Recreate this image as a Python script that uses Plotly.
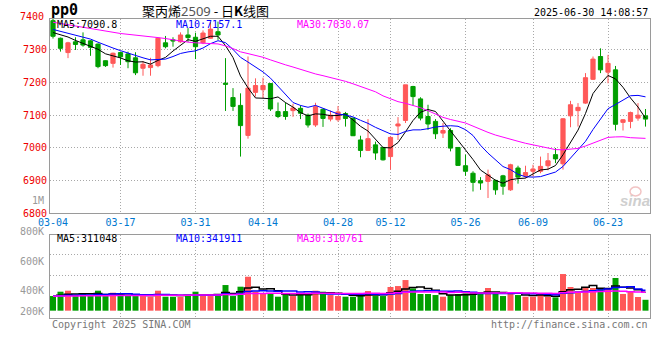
import plotly.graph_objects as go
import pandas as pd

# ---------------- data ----------------
dates = [
    "03-04", "03-05", "03-06", "03-07", "03-10", "03-11", "03-12", "03-13", "03-14", "03-17",
    "03-18", "03-19", "03-20", "03-21", "03-24", "03-25", "03-26", "03-27", "03-28", "03-31",
    "04-01", "04-02", "04-03", "04-07", "04-08", "04-09", "04-10", "04-11", "04-14", "04-15",
    "04-16", "04-17", "04-18", "04-21", "04-22", "04-23", "04-24", "04-25", "04-28", "04-29",
    "04-30", "05-06", "05-07", "05-08", "05-09", "05-12", "05-13", "05-14", "05-15", "05-16",
    "05-19", "05-20", "05-21", "05-22", "05-23", "05-26", "05-27", "05-28", "05-29", "05-30",
    "06-03", "06-04", "06-05", "06-06", "06-09", "06-10", "06-11", "06-12", "06-13", "06-16",
    "06-17", "06-18", "06-19", "06-20", "06-23", "06-24", "06-25", "06-26", "06-27", "06-30",
]
opens = [
    7390, 7336, 7292, 7325, 7331, 7328, 7318, 7267, 7259, 7292,
    7288, 7276, 7244, 7246, 7252, 7322, 7331, 7325, 7346, 7339,
    7322, 7336, 7356, 7198, 7154, 7130, 7038, 7170, 7178, 7197,
    7111, 7111, 7114, 7121, 7100, 7070, 7118, 7088, 7086, 7105,
    7091, 7024, 6992, 7009, 7001, 6973, 7067, 7084, 7188, 7150,
    7096, 7081, 7045, 7053, 7001, 6945, 6922, 6899, 6897, 6900,
    6914, 6871, 6938, 6914, 6928, 6928, 6945, 6979, 6951, 7098,
    7114, 7137, 7210, 7280, 7232, 7239, 7078, 7081, 7091, 7098,
]
highs = [
    7395, 7338, 7325, 7339, 7354, 7330, 7320, 7268, 7292, 7295,
    7295, 7293, 7266, 7276, 7337, 7343, 7339, 7354, 7367, 7353,
    7360, 7385, 7387, 7275, 7183, 7167, 7280, 7213, 7215, 7198,
    7139, 7139, 7135, 7130, 7105, 7138, 7120, 7114, 7128, 7110,
    7092, 7037, 7088, 7019, 7003, 7035, 7094, 7193, 7190, 7155,
    7132, 7088, 7076, 7060, 7002, 6979, 6928, 6910, 6933, 6902,
    6917, 6951, 6945, 6945, 6948, 6973, 6984, 6999, 7091, 7144,
    7137, 7229, 7280, 7305, 7285, 7251, 7088, 7111, 7137, 7119,
]
lows = [
    7335, 7295, 7275, 7300, 7310, 7282, 7244, 7248, 7246, 7254,
    7244, 7223, 7221, 7221, 7247, 7305, 7310, 7322, 7325, 7272,
    7318, 7335, 7331, 7113, 7113, 6973, 7028, 7157, 7152, 7113,
    7091, 7086, 7095, 7088, 7062, 7064, 7064, 7081, 7080, 7065,
    7036, 6971, 6990, 6963, 6961, 6933, 7024, 7076, 7129, 7084,
    7055, 7027, 7030, 6989, 6945, 6914, 6866, 6871, 6846, 6856,
    6856, 6868, 6890, 6907, 6912, 6922, 6931, 6953, 6933, 7063,
    7065, 7135, 7208, 7229, 7198, 7053, 7053, 7060, 7083, 7065,
]
closes = [
    7342, 7305, 7322, 7317, 7315, 7308, 7249, 7252, 7290, 7279,
    7264, 7230, 7256, 7254, 7336, 7310, 7328, 7346, 7338, 7310,
    7352, 7364, 7346, 7195, 7127, 7068, 7183, 7191, 7191, 7119,
    7096, 7096, 7122, 7106, 7070, 7126, 7090, 7100, 7110, 7090,
    7037, 6992, 7028, 6984, 6963, 7032, 7073, 7193, 7157, 7091,
    7073, 7043, 7053, 6999, 6946, 6928, 6894, 6892, 6917, 6871,
    6882, 6948, 6910, 6924, 6935, 6943, 6960, 6966, 7089, 7132,
    7124, 7215, 7272, 7239, 7259, 7072, 7086, 7108, 7100, 7088,
]
# 29 sessions before 03-04 (not drawn; estimated from the moving-average curves)
prior_closes = [
    7425, 7442, 7437, 7435, 7428, 7354, 7357, 7410, 7384, 7339,
    7290, 7316, 7344, 7426, 7400, 7448, 7436, 7458, 7370, 7421,
    7365, 7380, 7372, 7378, 7368, 7345, 7350, 7370, 7360,
]
volumes_k = [
    246, 319, 336, 246, 280, 246, 336, 246, 302, 280,
    263, 246, 246, 235, 336, 235, 235, 235, 263, 319,
    263, 246, 263, 431, 246, 403, 571, 319, 280, 280,
    235, 280, 246, 291, 291, 336, 319, 263, 246, 235,
    235, 280, 330, 246, 246, 398, 414, 515, 375, 280,
    280, 263, 235, 263, 280, 291, 314, 314, 381, 280,
    246, 291, 263, 235, 235, 291, 235, 224, 616, 398,
    325, 398, 381, 375, 381, 549, 280, 314, 230, 183,
]
prior_volumes_k = [
    238, 252, 231, 260, 244, 229, 249, 236, 255, 241,
    233, 247, 258, 226, 240, 251, 237, 245, 232, 256,
    243, 235, 249, 228, 254, 239, 246, 231, 250,
]
tick_labels = ["03-04", "03-17", "03-31", "04-14", "04-28", "05-12", "05-26", "06-09", "06-23"]
price_ticks = [6800, 6900, 7000, 7100, 7200, 7300]
price_top_label = "7400"
ma_windows = [5, 10, 30]
price_ma_text = ["MA5:7090.8", "MA10:7157.1", "MA30:7030.07"]
vol_ma_text = ["MA5:311048", "MA10:341911", "MA30:310761"]
vol_axis_labels = ["800K", "600K", "400K", "200K"]
title_code = "pp0"
timestamp = "2025-06-30 14:08:57"

# ---------------- styles ----------------
RED = "#FF5858"
GREEN = "#009E00"
MA_COLORS = ["#000000", "#0000FF", "#FF00FF"]
GRID = "#A8A8A8"
BORDER = "#9A9A9A"
MONO = "DejaVu Sans Mono"
DASH = "1px,2px"

n = len(closes)
x = list(range(n))
tick_idx = [dates.index(d) for d in tick_labels]
grid_idx = tick_idx[1:]

px_all = pd.Series(prior_closes + closes, dtype=float)
vol_all = pd.Series(prior_volumes_k + volumes_k, dtype=float) * 1000
k0 = len(prior_closes)
price_ma = {w: px_all.rolling(w).mean().iloc[k0:].tolist() for w in ma_windows}
vol_ma = {w: vol_all.rolling(w).mean().iloc[len(prior_volumes_k):].tolist() for w in ma_windows}
volumes = [v * 1000 for v in volumes_k]
vol_colors = [RED if c >= o else GREEN for o, c in zip(opens, closes)]

fig = go.Figure()
fig.add_trace(go.Candlestick(
    x=x, open=opens, high=highs, low=lows, close=closes,
    increasing=dict(line=dict(color=RED, width=1), fillcolor=RED),
    decreasing=dict(line=dict(color=GREEN, width=1), fillcolor=GREEN),
    whiskerwidth=0, xaxis="x", yaxis="y", hoverinfo="skip", showlegend=False,
))
for w, col in zip(ma_windows, MA_COLORS):
    fig.add_trace(go.Scatter(x=x, y=price_ma[w], mode="lines",
                             line=dict(color=col, width=1), xaxis="x", yaxis="y",
                             hoverinfo="skip", showlegend=False))
fig.add_trace(go.Bar(x=x, y=volumes, marker=dict(color=vol_colors, line=dict(width=0)),
                     width=0.8, xaxis="x2", yaxis="y2", hoverinfo="skip", showlegend=False))
for w, col in zip(ma_windows, MA_COLORS):
    fig.add_trace(go.Scatter(x=x, y=vol_ma[w], mode="lines", line_shape="hvh",
                             line=dict(color=col, width=1.5), xaxis="x2", yaxis="y2",
                             hoverinfo="skip", showlegend=False))

# pixel helpers for text placement (plot area: x 50..650, y 19..318)
def PX(p):
    return (p - 50) / 600.0

def PY(p):
    return (318 - p) / 299.0

ann = []
def txt(s, px, py, color="#000", size=10, xanchor="left", family=MONO, **kw):
    ann.append(dict(text=s, x=PX(px), y=PY(py), xref="paper", yref="paper",
                    xanchor=xanchor, yanchor="middle", showarrow=False,
                    font=dict(family=family, size=size, color=color), **kw))

txt("<b>" + title_code + "</b>", 49, 10, size=15)
txt("聚丙烯<span style='color:#555555;font-family:Noto Sans'>2509</span> - 日<b>K</b>线图",
    140, 10, size=13, family="Noto Sans CJK SC")
txt(timestamp, 650, 12, xanchor="right", size=10)
for s, px_, col in zip(price_ma_text, [55, 174, 295], MA_COLORS):
    txt(s, px_, 24.5, color=col)
for s, px_, col in zip(vol_ma_text, [55, 174, 295], MA_COLORS):
    txt(s, px_, 238.5, color=col)
txt(price_top_label, 46, 16, color="#EE0000", xanchor="right")
txt("1M", 46, 200, color="#999999", xanchor="right")
for s, py_ in zip(vol_axis_labels, [231, 261, 290, 311]):
    txt(s, 46, py_, color="#999999", xanchor="right")
txt("Copyright 2025 SINA.COM", 50, 324, color="#777777")
txt("http://finance.sina.com.cn", 650, 324, color="#777777", xanchor="right")
txt("<b><i>sina</i></b>", 635, 200, color="#CFCFCF", size=15, xanchor="center", family="Liberation Sans")

shapes = [dict(type="circle", xref="paper", yref="paper",
               x0=PX(630), x1=PX(641), y0=PY(196), y1=PY(187),
               line=dict(color="#F2C4C4", width=1.5))]

axis_common = dict(showline=True, mirror=True, linecolor=BORDER, linewidth=1,
                   zeroline=False, automargin=False)
xminor = dict(tickmode="array", tickvals=grid_idx, showgrid=True, gridcolor=GRID,
              griddash=DASH, gridwidth=1, ticks="")

fig.update_layout(
    width=660, height=360, margin=dict(l=50, r=10, t=19, b=42, autoexpand=False),
    paper_bgcolor="white", plot_bgcolor="white", showlegend=False, hovermode=False,
    boxgap=0.2,
    xaxis=dict(domain=[0, 1], anchor="y", range=[-0.4, n - 0.4], tickmode="array",
               tickvals=tick_idx, ticktext=tick_labels, showgrid=False, ticks="",
               tickfont=dict(family=MONO, size=10, color="#0078D0"),
               rangeslider=dict(visible=False), minor=xminor, **axis_common),
    yaxis=dict(domain=[105 / 299, 1], anchor="x", range=[6800, 7395], tickmode="array",
               tickvals=price_ticks, ticks="", showgrid=True, gridcolor=GRID, griddash=DASH,
               tickfont=dict(family=MONO, size=10, color="#EE0000"), **axis_common),
    xaxis2=dict(domain=[0, 1], anchor="y2", matches="x", showticklabels=False, ticks="",
                showgrid=False, minor=xminor, **axis_common),
    yaxis2=dict(domain=[0, 83.3 / 299], anchor="x2", range=[-123000, 1277000], tickmode="array",
                tickvals=[595000, 936000], showticklabels=False, ticks="", showgrid=True,
                gridcolor=GRID, griddash=DASH, **axis_common),
    annotations=ann, shapes=shapes,
)

fig.write_html("out.html", config={"displayModeBar": False, "staticPlot": True},
               post_script="document.body.style.margin='0';")
